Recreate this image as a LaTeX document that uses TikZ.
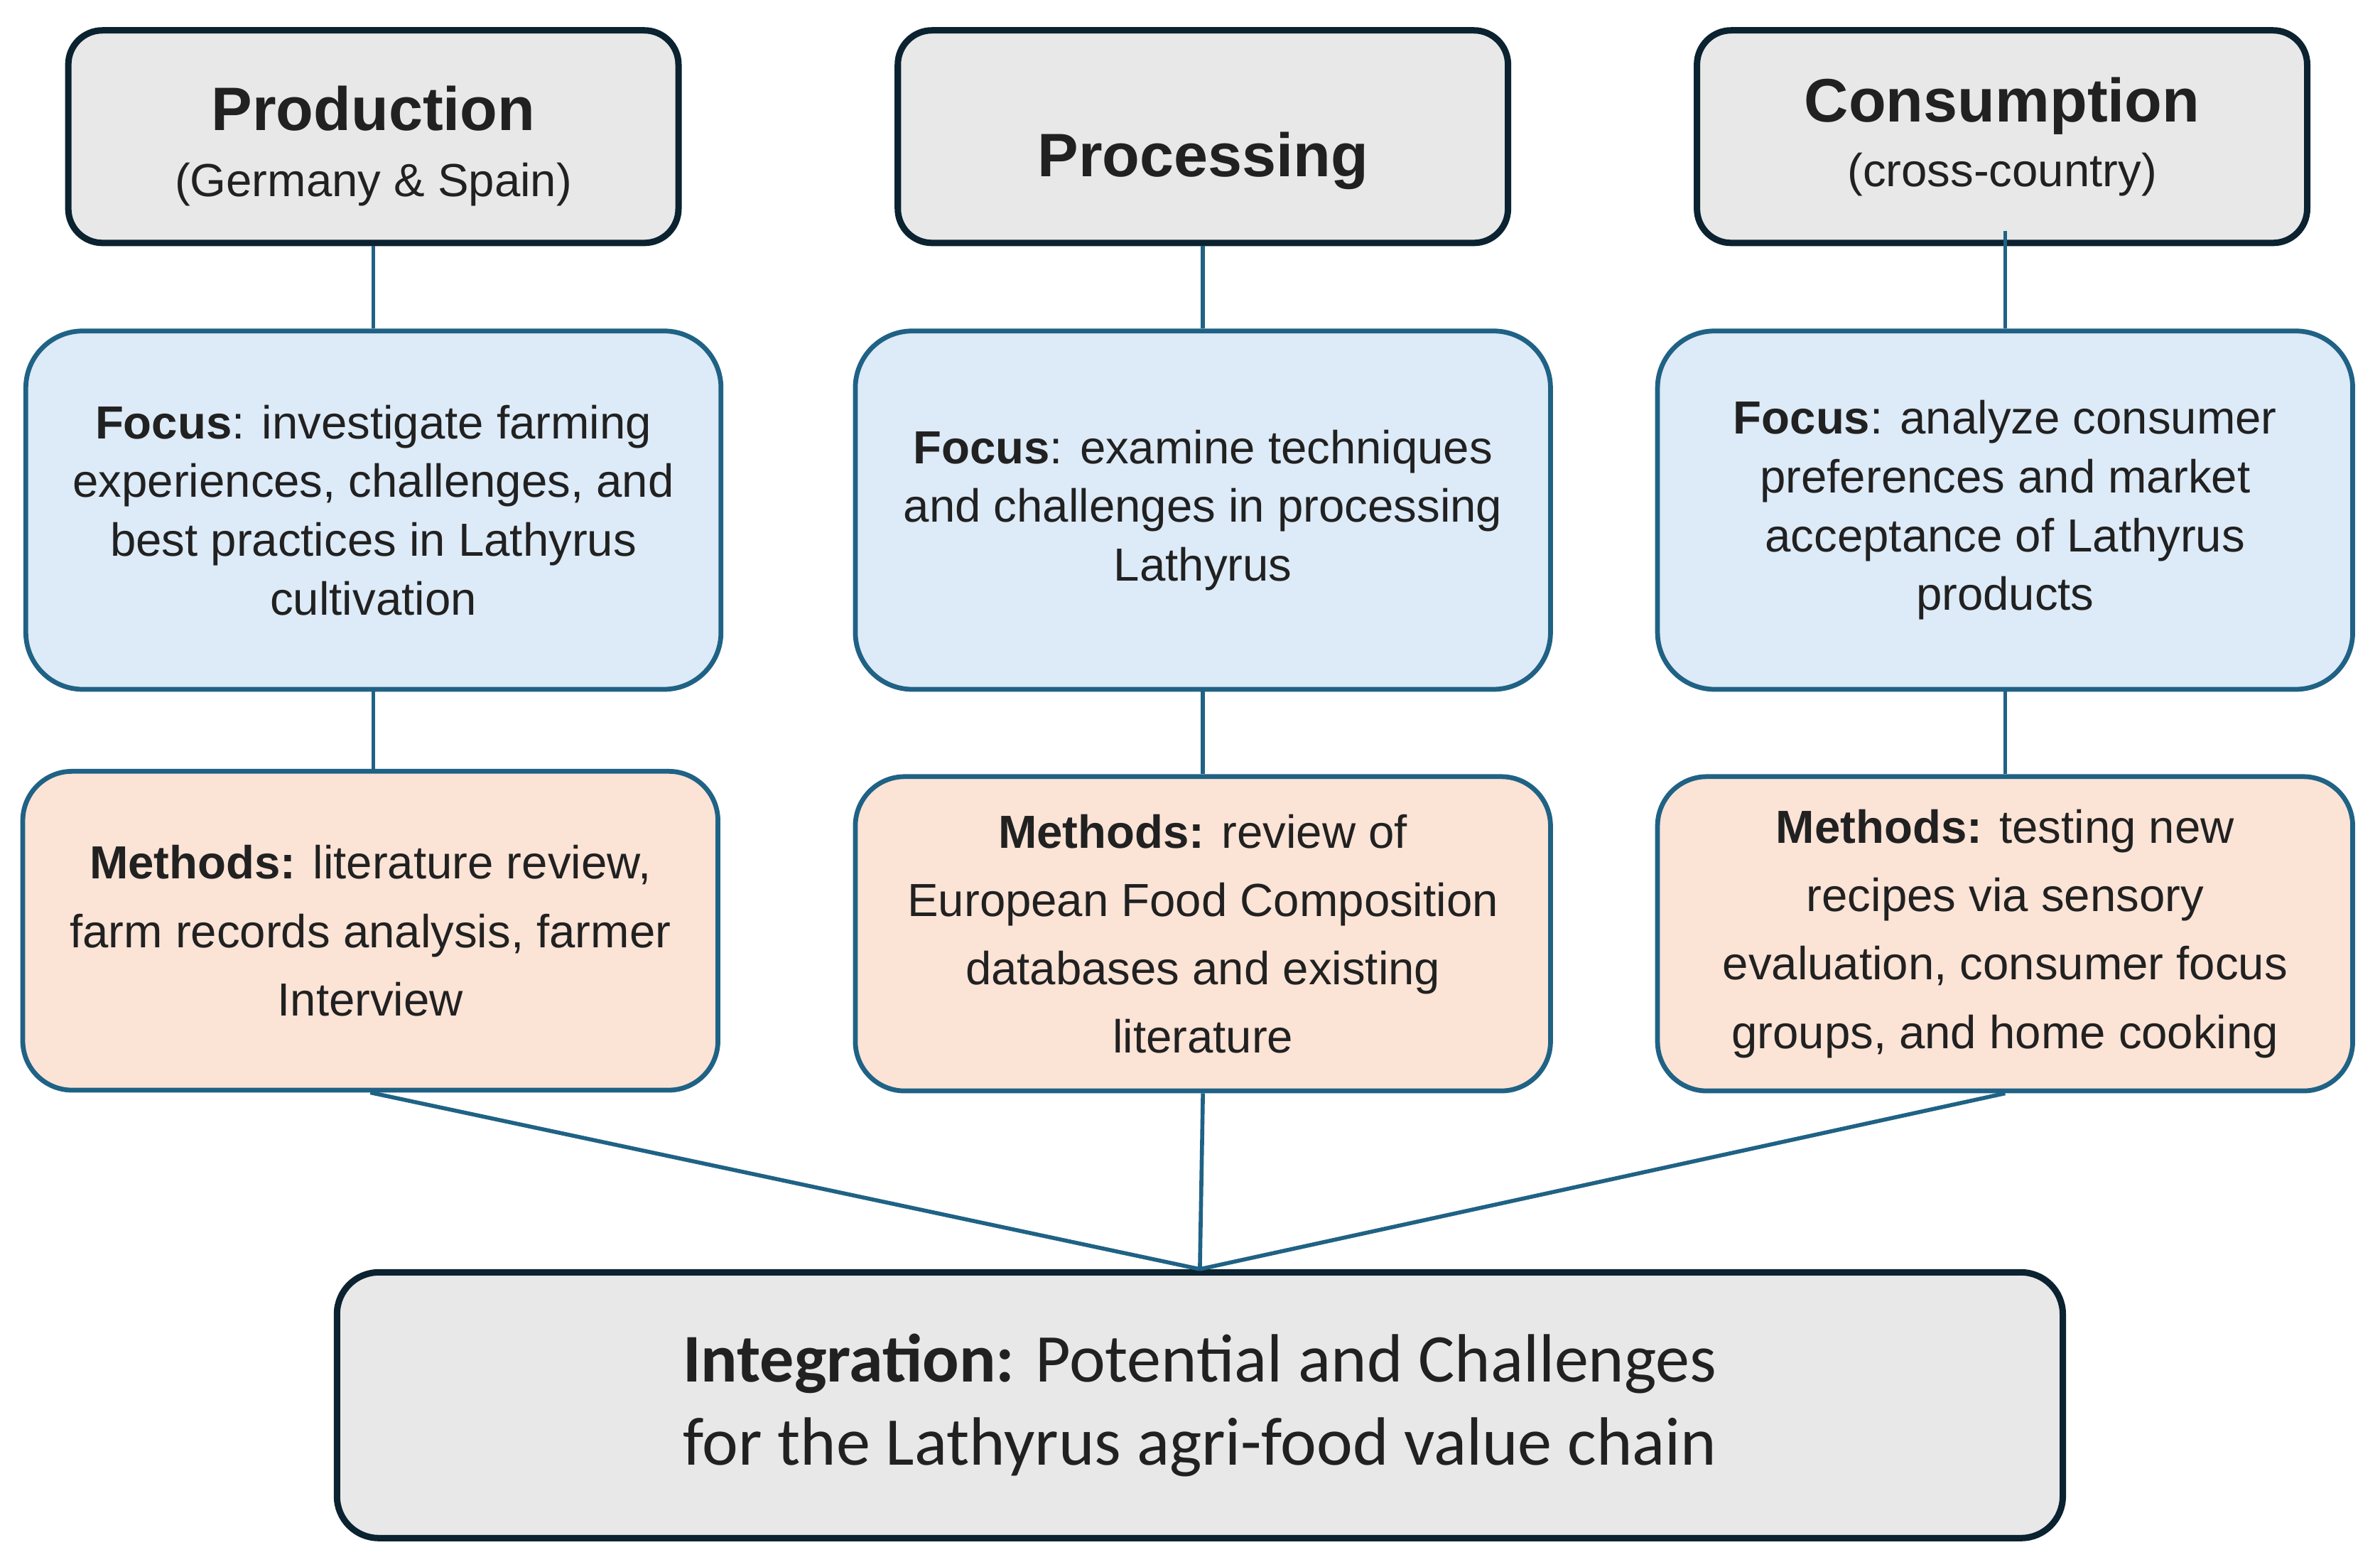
\documentclass[tikz,border=0pt]{standalone}
\usepackage{fontspec}
\setmainfont{Liberation Sans}
\newfontfamily\headfont{Carlito}
\definecolor{headfill}{RGB}{232, 232, 232}
\definecolor{headline}{RGB}{11, 34, 48}
\definecolor{tealline}{RGB}{31, 98, 133}
\definecolor{focusfill}{RGB}{221, 234, 247}
\definecolor{methodfill}{RGB}{251, 227, 214}
\definecolor{textcol}{RGB}{33, 33, 33}
\usetikzlibrary{positioning, calc}

\begin{document}
\begin{tikzpicture}[
    headbox/.style={draw=headline, line width=2.4pt, fill=headfill, rounded corners=0.45cm,
        minimum width=8.04cm, minimum height=2.8cm, align=center, text=textcol},
    focusbox/.style={draw=tealline, line width=1.8pt, fill=focusfill, rounded corners=0.75cm,
        minimum width=9.16cm, minimum height=4.72cm, align=center, text=textcol,
        font=\fontsize{17.4}{22}\selectfont},
    methodbox/.style={draw=tealline, line width=1.8pt, fill=methodfill, rounded corners=0.65cm,
        minimum width=9.16cm, minimum height=4.14cm, align=center, text=textcol,
        font=\fontsize{17.4}{25.6}\selectfont},
    link/.style={draw=tealline, line width=1.5pt}
]
    \useasboundingbox[fill=white] (0,0) rectangle (31.36,-20.64);

    % Stage headers
    \node[headbox] (prod) at (4.92,-1.8) {\rule{0pt}{0.84cm}{\fontsize{23}{27}\selectfont\bfseries Production}\\[11pt]
        {\fontsize{17.4}{20}\selectfont (Germany \& Spain)}};
    \node[headbox] (proc) at (15.85,-1.8) {\raisebox{-0.53cm}[0pt][0pt]{\fontsize{23}{27}\selectfont\bfseries Processing}};
    \node[headbox] (cons) at (26.38,-1.8) {{\fontsize{23}{27}\selectfont\bfseries Consumption}\\[6pt]
        {\fontsize{17.4}{20}\selectfont (cross-country)}};

    % Focus boxes
    \node[focusbox] (focprod) at (4.92,-6.72) {\textbf{Focus}: investigate farming\\
        experiences, challenges, and\\ best practices in Lathyrus\\ cultivation};
    \node[focusbox] (focproc) at (15.85,-6.72) {\textbf{Focus}: examine techniques\\
        and challenges in processing\\ Lathyrus};
    \node[focusbox] (foccons) at (26.42,-6.72) {\textbf{Focus}: analyze consumer\\
        preferences and market\\ acceptance of Lathyrus\\ products};

    % Methods boxes
    \node[methodbox, minimum height=4.2cm] (metprod) at (4.88,-12.26) {\textbf{Methods:} literature review,\\
        farm records analysis, farmer\\ Interview};
    \node[methodbox] (metproc) at (15.85,-12.3) {\textbf{Methods:} review of\\
        European Food Composition\\ databases and existing\\ literature};
    \node[methodbox] (metcons) at (26.42,-12.3) {\textbf{Methods:} testing new\\
        recipes via sensory\\ evaluation, consumer focus\\ groups, and home cooking};

    % Integration box
    \node[headbox, minimum width=22.74cm, minimum height=3.5cm, rounded corners=0.55cm,
        font=\headfont\fontsize{25.6}{31}\selectfont] (integ) at (15.81,-18.51)
        {\textbf{Integration:} Potential and Challenges\\ for the Lathyrus agri-food value chain};

    % Connectors
    \draw[link] (prod.south) -- (focprod.north);
    \draw[link] (proc.south) -- (focproc.north);
    \draw[link] ([yshift=0.2cm]foccons.north |- cons.south) -- (foccons.north);
    \foreach \b/\c in {focprod/metprod, focproc/metproc, foccons/metcons} {
        \draw[link] (\b.south) -- (\b.south |- \c.north);
        \draw[link] (\c.south) -- (integ.north);
    }
\end{tikzpicture}
\end{document}
